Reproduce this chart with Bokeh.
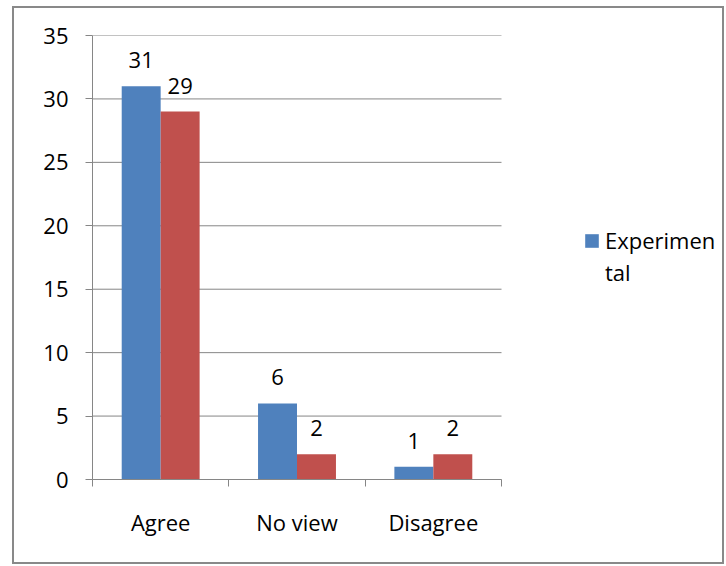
from bokeh.plotting import figure
from bokeh.models import (ColumnDataSource, Range1d, FixedTicker,
                          LabelSet, Legend, LegendItem)
from bokeh.transform import dodge
from bokeh.core.properties import value
from bokeh.embed import file_html
from bokeh.resources import INLINE

categories = ["Agree", "No view", "Disagree"]
experimental = [31, 6, 1]
control = [29, 2, 2]
y_ticks = [0, 5, 10, 15, 20, 25, 30, 35]
legend_lines = ["Experimen", "tal"]

BLUE = "#4F81BD"
RED = "#C0504D"
GRAY = "#868686"
FONT = "Open Sans"
FS = "22px"

n = len(categories)
centers = [i + 0.5 for i in range(n)]

src = ColumnDataSource(dict(
    pos=centers,
    exp=experimental,
    ctl=control,
    exp_txt=[str(v) for v in experimental],
    ctl_txt=[str(v) for v in control],
))

# plot area spans 409 px for the categories; the frame extends further right to hold the legend
FRAME_W = 634
CAT_W = 409
p = figure(width=712, height=558,
           x_range=Range1d(0, n * FRAME_W / CAT_W),
           y_range=Range1d(0, 35),
           output_backend="svg", toolbar_location=None,
           min_border_left=78, min_border_top=27, min_border_bottom=87, min_border_right=0)
p.outline_line_color = None
p.styles = {"border": "2px solid #898989"}
p.margin = (6, 0, 0, 12)

# horizontal grid lines limited to the category area
p.xgrid.grid_line_color = None
p.ygrid.grid_line_color = None
p.segment(x0=[0] * len(y_ticks), x1=[n] * len(y_ticks), y0=y_ticks, y1=y_ticks,
          line_color=GRAY, line_width=1)

bw = 0.2857
off = 0.1429
r_exp = p.vbar(x=dodge("pos", -off), top="exp", width=bw, source=src,
               fill_color=BLUE, line_color=None)
r_ctl = p.vbar(x=dodge("pos", off), top="ctl", width=bw, source=src,
               fill_color=RED, line_color=None)
dummy = p.vbar(x=[], top=[], width=0.1, fill_alpha=0, line_alpha=0)

for col, txt, o in (("exp", "exp_txt", -off), ("ctl", "ctl_txt", off)):
    p.add_layout(LabelSet(x=dodge("pos", o), y=col, text=txt, source=src,
                          y_offset=18, text_align="center", text_baseline="alphabetic",
                          text_font=value(FONT), text_font_size=FS, text_color="#000000"))

# y axis
yax = p.yaxis[0]
yax.ticker = FixedTicker(ticks=y_ticks)
yax.major_tick_in = 0
yax.major_tick_out = 7
yax.minor_tick_line_color = None
yax.axis_line_color = GRAY
yax.major_tick_line_color = GRAY
yax.major_label_text_font = FONT
yax.major_label_text_font_size = FS
yax.major_label_text_color = "#000000"
yax.major_label_standoff = 17

# x axis: labels at category centres, ticks at category boundaries
xax = p.xaxis[0]
xax.bounds = (0, n)
xax.ticker = FixedTicker(ticks=centers, minor_ticks=[float(i) for i in range(n + 1)])
xax.major_label_overrides = {c: lab for c, lab in zip(centers, categories)}
xax.major_tick_line_color = None
xax.major_tick_in = 0
xax.major_tick_out = 7
xax.minor_tick_in = 0
xax.minor_tick_out = 7
xax.minor_tick_line_color = GRAY
xax.axis_line_color = GRAY
xax.major_label_text_font = FONT
xax.major_label_text_font_size = FS
xax.major_label_text_color = "#000000"
xax.major_label_standoff = 20

legend = Legend(items=[LegendItem(label=legend_lines[0], renderers=[r_exp]),
                       LegendItem(label=legend_lines[1], renderers=[dummy])],
                location=(491, 192), orientation="vertical",
                glyph_width=17, glyph_height=17, label_standoff=5,
                padding=0, margin=0, spacing=2,
                border_line_color=None, background_fill_alpha=0,
                label_text_font=FONT, label_text_font_size=FS, label_text_color="#000000")
p.add_layout(legend, "center")

open("out.html", "w").write(file_html(p, INLINE))
